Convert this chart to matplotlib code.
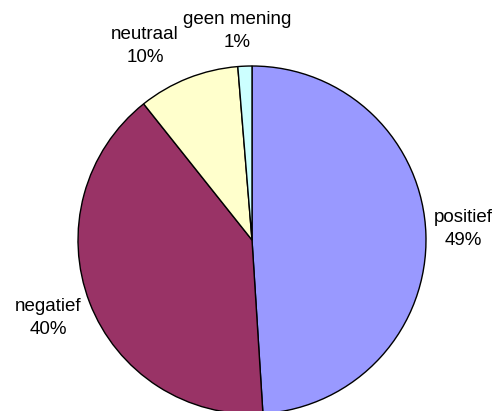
import matplotlib.pyplot as plt

labels = ["positief", "negatief", "neutraal", "geen mening"]
values = [49.0, 40.3, 9.4, 1.3]
pct_text = ["49%", "40%", "10%", "1%"]
colors = ["#9999FF", "#993366", "#FFFFCC", "#CCFFFF"]

plt.rcParams['font.family'] = ['Liberation Sans', 'DejaVu Sans']

fig = plt.figure(figsize=(5.0, 4.11), dpi=100)
ax = fig.add_axes([0, 0, 1, 1])

# pie in pixel coords (y up)
cx, cy, r = 252, 171, 174
ax.pie(values, colors=colors, startangle=90, counterclock=False,
       center=(cx, cy), radius=r, frame=True,
       wedgeprops=dict(edgecolor='black', linewidth=1.0))
ax.set_xlim(0, 500)
ax.set_ylim(0, 411)
ax.set_aspect('equal')
ax.axis('off')

# label positions (pixels from top-left)
label_pos = [(463, 229), (48, 318), (145, 46), (237, 31)]
for lab, pct, (x, y) in zip(labels, pct_text, label_pos):
    ax.text(x, 411 - y, lab + "\n" + pct, ha='center', va='center',
            fontsize=13.5, linespacing=1.5, color='black')

fig.savefig("out.png", dpi=100)
